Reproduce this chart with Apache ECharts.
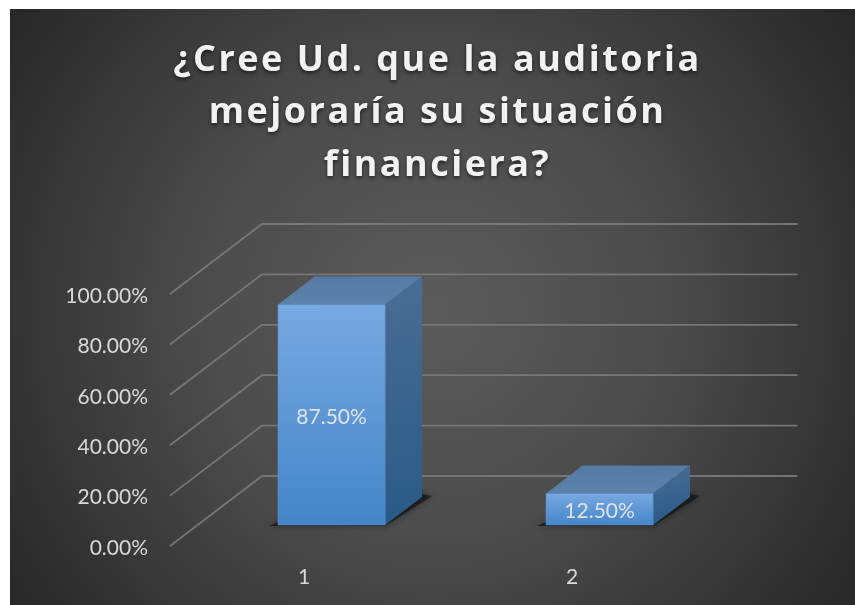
<!DOCTYPE html>
<html><head><meta charset="utf-8">
<style>html,body{margin:0;padding:0;background:#fff}#c{width:855px;height:605px}</style>
<script src="https://cdn.jsdelivr.net/npm/echarts@6/dist/echarts.min.js"></script>
</head><body><div id="c"></div>
<script>
const titleText = '¿Cree Ud. que la auditoria\nmejoraría su situación\nfinanciera?';
const categories = ['1', '2'];
const values = [0.875, 0.125];
const yTicks = [0, 0.2, 0.4, 0.6, 0.8, 1];

// wide tracking of the title, as in the original
const origFill = CanvasRenderingContext2D.prototype.fillText;
CanvasRenderingContext2D.prototype.fillText = function (t, x, y, m) {
  this.letterSpacing = this.font.indexOf('36px') >= 0 ? '2.5px' : '0px';
  return origFill.call(this, t, x, y, m);
};

const DX = 92, DY = 70, NEAR = 0.3, FAR = 0.7;
const linear = (a, b) => ({type:'linear', x:0, y:0, x2:0, y2:1, colorStops:[{offset:0,color:a},{offset:1,color:b}]});

function renderGrid(params, api) {
  const cs = params.coordSys;
  const y = api.coord([0, api.value(1)])[1];
  return {type:'polyline', silent:true,
    shape:{points:[[cs.x, y],[cs.x + DX, y - DY],[cs.x + cs.width + DX - 0.5, y - DY]]},
    style:{fill:null, stroke:'#7b7b7b', lineWidth:1.8, opacity:0.9}};
}
function renderBar(params, api) {
  const c = api.coord([api.value(0), api.value(1)]);
  const b = api.coord([api.value(0), 0]);
  const w = api.size([1, 0])[0] * 0.4;
  const ox = DX * NEAR, oy = -DY * NEAR;
  const dx = DX * (FAR - NEAR), dy = -DY * (FAR - NEAR);
  const l = c[0] + ox - w / 2, r = l + w, t = c[1] + oy, f = b[1] + oy;
  return {type:'group', children:[
    {type:'polygon', silent:true, shape:{points:[[l-9,f+1],[r,f+1],[r+dx+10,f+dy-1],[r+dx,f+dy-3],[l,f-3]]},
      style:{fill:'rgba(22,22,22,0.75)', shadowBlur:7, shadowColor:'rgba(0,0,0,0.55)'}},
    {type:'polygon', silent:true, shape:{points:[[l,t],[r,t],[r+dx,t+dy],[l+dx,t+dy]]},
      style:{fill:linear('#557aa4','#5c82ac')}},
    {type:'polygon', silent:true, shape:{points:[[r,t],[r+dx,t+dy],[r+dx,f+dy],[r,f]]},
      style:{fill:{type:'linear',x:0,y:0,x2:0.3,y2:1,colorStops:[{offset:0,color:'#4a6d94'},{offset:1,color:'#2a5a88'}]}}},
    {type:'rect', silent:true, shape:{x:l,y:t,width:w,height:f-t},
      style:{fill:linear('#78a9e1','#4386c8'), stroke:'#5a8fc8', lineWidth:0.6}},
    {type:'text', silent:true, style:{x:(l+r)/2, y:(t+f)/2 + 2, text:(api.value(1)*100).toFixed(2)+'%',
      fill:'#dfe3e8', font:'21px Lato', align:'center', verticalAlign:'middle'}}
  ]};
}

const chart = echarts.init(document.getElementById('c'));
chart.setOption({
  animation:false,
  backgroundColor:'#ffffff',
  graphic:[{type:'rect', z:-10, silent:true, shape:{x:10,y:9,width:845,height:596},
    style:{fill:{type:'radial', x:432, y:310, r:510, global:true,
      colorStops:[{offset:0,color:'#5b5b5b'},{offset:0.45,color:'#4c4c4c'},{offset:1,color:'#282828'}]}}}],
  title:{text:titleText, left:432.5, top:29, textAlign:'center',
    textStyle:{color:'#f2f2f2', fontFamily:'Open Sans', fontWeight:'bold', fontSize:36, lineHeight:52.5,
      textShadowColor:'rgba(0,0,0,0.6)', textShadowBlur:4, textShadowOffsetY:2}},
  grid:{left:170, top:294, width:536, height:252, containLabel:false},
  xAxis:{type:'category', data:categories, axisLine:{show:false}, axisTick:{show:false}, splitLine:{show:false},
    axisLabel:{color:'#d9d9d9', fontFamily:'Lato', fontSize:21, margin:21}},
  yAxis:{type:'value', min:0, max:1, interval:0.2, axisLine:{show:false}, axisTick:{show:false}, splitLine:{show:false},
    axisLabel:{color:'#d9d9d9', fontFamily:'Lato', fontSize:21, margin:22, verticalAlign:'top', lineHeight:4, formatter:v=>(v*100).toFixed(2)+'%'}},
  series:[
    {type:'custom', clip:false, renderItem:renderGrid, data:yTicks.map(v=>[0,v]), z:2, encode:{x:0,y:1}},
    {type:'custom', clip:false, renderItem:renderBar, data:values.map((v,i)=>[i,v]), z:3, encode:{x:0,y:1}}
  ]
});
</script></body></html>
